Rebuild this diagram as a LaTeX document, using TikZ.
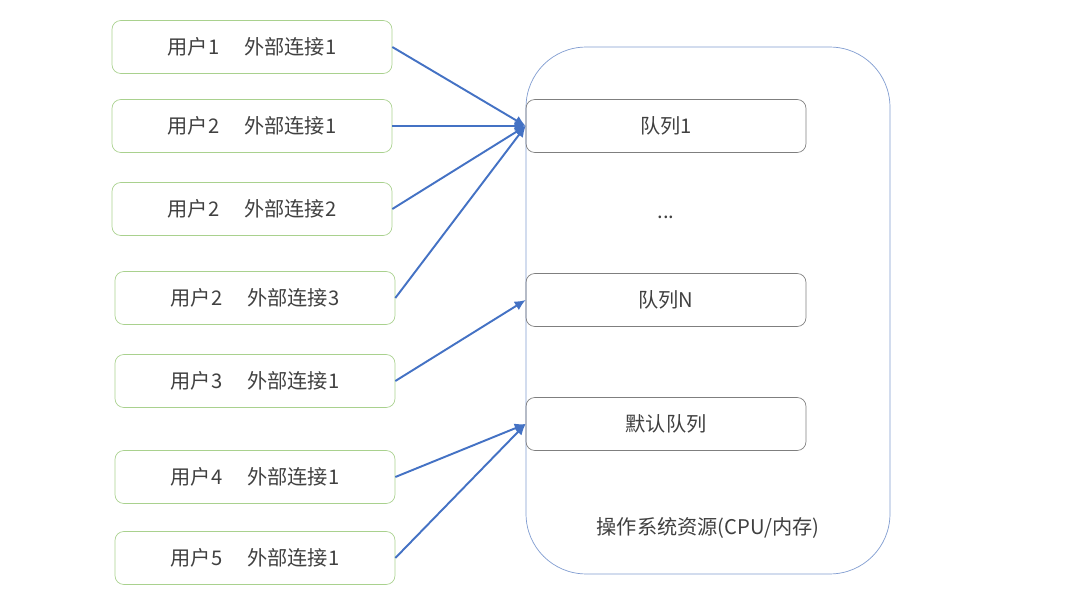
\documentclass[tikz,border=0pt]{standalone}
\usepackage{fontspec}
\setmainfont{Noto Sans CJK SC}
\usepackage{xcolor}
\usetikzlibrary{arrows.meta, positioning}
\definecolor{usergreen}{HTML}{A9D18E}
\definecolor{linkblue}{HTML}{4472C4}
\definecolor{osblue}{HTML}{7F9BD0}
\definecolor{queuegray}{HTML}{7F7F7F}
\definecolor{textgray}{HTML}{404040}

\begin{document}
\begin{tikzpicture}[
    x=0.02cm, y=-0.02cm,
    font=\fontsize{11.5pt}{13pt}\selectfont, text=textgray,
    userbox/.style={draw=usergreen, rounded corners=5pt, minimum width=5.6cm, minimum height=1.06cm, align=center},
    queuebox/.style={draw=queuegray, rounded corners=5pt, minimum width=5.6cm, minimum height=1.06cm, align=center},
    osbox/.style={draw=osblue, rounded corners=1.2cm, minimum width=7.28cm, minimum height=10.54cm},
    connline/.style={-{Latex[length=2.2mm, width=2mm]}, line width=1.1pt, draw=linkblue}
  ]
    \useasboundingbox (0,0) rectangle (1080,608);

    % left side: user connections
    \node[userbox] (u1) at (252,47) {用户1\hspace{0.5cm}外部连接1};
    \node[userbox] (u2) at (252,126) {用户2\hspace{0.5cm}外部连接1};
    \node[userbox] (u3) at (252,209) {用户2\hspace{0.5cm}外部连接2};
    \node[userbox] (u4) at (255,298) {用户2\hspace{0.5cm}外部连接3};
    \node[userbox] (u5) at (255,381) {用户3\hspace{0.5cm}外部连接1};
    \node[userbox] (u6) at (255,477) {用户4\hspace{0.5cm}外部连接1};
    \node[userbox] (u7) at (255,558) {用户5\hspace{0.5cm}外部连接1};

    % right side: os resources and queues
    \node[osbox] (os) at (708,310.5) {};
    \node[queuebox] (q1) at (666,126) {队列1};
    \node (dots) at (666,217) {...};
    \node[queuebox] (qn) at (666,300) {队列N};
    \node[queuebox] (qd) at (666,424) {默认队列};
    \node[above=0.6cm of os.south] (oslabel) {操作系统资源(CPU/内存)};

    \draw[connline] (u1.east) -- (q1.west);
    \draw[connline] (u2.east) -- (q1.west);
    \draw[connline] (u3.east) -- (q1.west);
    \draw[connline] (u4.east) -- (q1.west);
    \draw[connline] (u5.east) -- (qn.west);
    \draw[connline] (u6.east) -- (qd.west);
    \draw[connline] (u7.east) -- (qd.west);
  \end{tikzpicture}
\end{document}
